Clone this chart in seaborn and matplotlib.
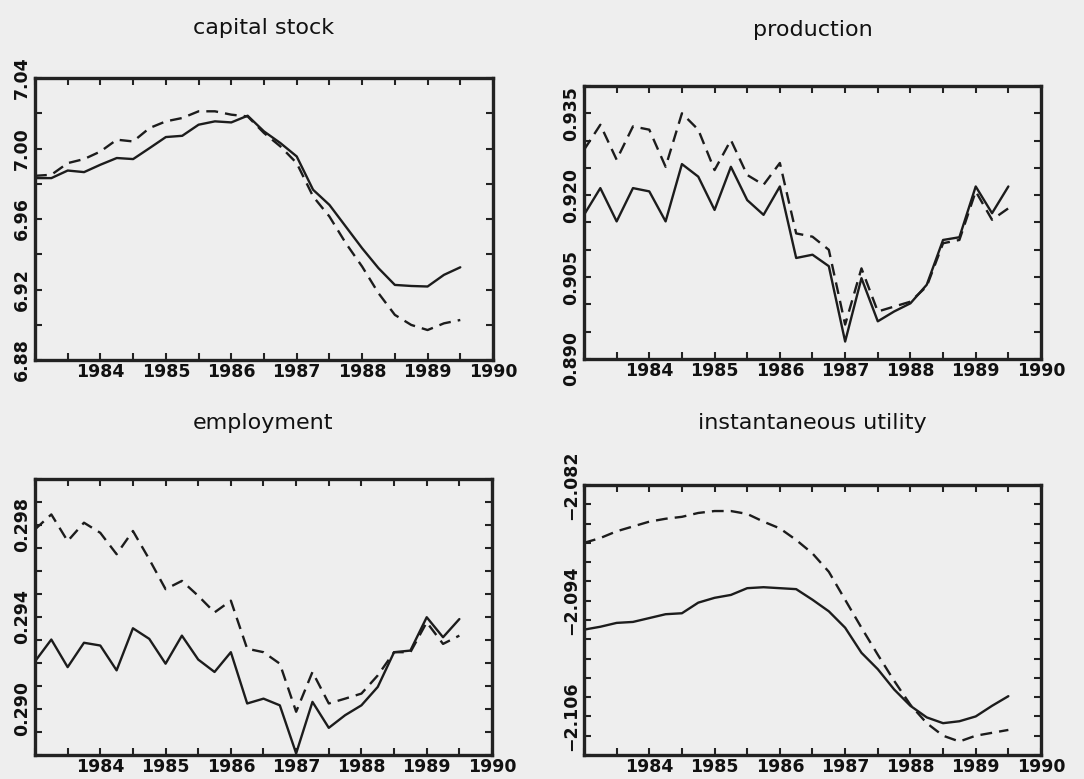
import numpy as np
import pandas as pd
from matplotlib import pyplot as plt
from matplotlib.ticker import MultipleLocator
import seaborn as sb

# quarterly dates, 1983Q1 .. 1989Q3
quarters = [1983.0, 1983.25, 1983.5, 1983.75, 1984.0, 1984.25, 1984.5, 1984.75,
            1985.0, 1985.25, 1985.5, 1985.75, 1986.0, 1986.25, 1986.5, 1986.75,
            1987.0, 1987.25, 1987.5, 1987.75, 1988.0, 1988.25, 1988.5, 1988.75,
            1989.0, 1989.25, 1989.5]

capital_solid = [6.9832, 6.9832, 6.9875, 6.9866, 6.9908, 6.9946, 6.9940, 7.0002,
                 7.0065, 7.0072, 7.0135, 7.0154, 7.0148, 7.0186, 7.0097, 7.0031,
                 6.9955, 6.9766, 6.9680, 6.9557, 6.9434, 6.9321, 6.9226, 6.9220,
                 6.9217, 6.9283, 6.9326]
capital_dash = [6.9845, 6.9851, 6.9917, 6.9940, 6.9983, 7.0050, 7.0040, 7.0116,
                7.0154, 7.0173, 7.0211, 7.0211, 7.0192, 7.0182, 7.0088, 7.0012,
                6.9917, 6.9728, 6.9614, 6.9463, 6.9330, 6.9179, 6.9056, 6.8999,
                6.8970, 6.9008, 6.9027]

prod_solid = [0.9164, 0.9213, 0.9152, 0.9213, 0.9207, 0.9152, 0.9257, 0.9234,
              0.9173, 0.9252, 0.9191, 0.9164, 0.9216, 0.9085, 0.9091, 0.9070,
              0.8932, 0.9048, 0.8969, 0.8987, 0.9002, 0.9036, 0.9118, 0.9123,
              0.9216, 0.9167, 0.9216]
prod_dash = [0.9283, 0.9329, 0.9265, 0.9326, 0.9320, 0.9252, 0.9350, 0.9320,
             0.9246, 0.9301, 0.9237, 0.9219, 0.9259, 0.9130, 0.9124, 0.9100,
             0.8963, 0.9066, 0.8987, 0.8996, 0.9005, 0.9033, 0.9112, 0.9118,
             0.9207, 0.9155, 0.9176]

empl_solid = [0.29207, 0.29302, 0.29182, 0.29288, 0.29276, 0.29168, 0.29351, 0.29305,
              0.29197, 0.29319, 0.29215, 0.29161, 0.29247, 0.29024, 0.29045, 0.29016,
              0.28807, 0.29031, 0.28918, 0.28973, 0.29016, 0.29096, 0.29247, 0.29254,
              0.29399, 0.29312, 0.29391]
empl_dash = [0.29781, 0.29846, 0.29730, 0.29810, 0.29766, 0.29673, 0.29774, 0.29651,
             0.29521, 0.29557, 0.29492, 0.29420, 0.29471, 0.29262, 0.29247, 0.29197,
             0.28988, 0.29161, 0.29024, 0.29045, 0.29067, 0.29146, 0.29247, 0.29247,
             0.29377, 0.29283, 0.29319]

util_solid = [-2.0970, -2.0967, -2.0963, -2.0962, -2.0958, -2.0954, -2.0953, -2.0942,
              -2.0937, -2.0934, -2.0927, -2.0926, -2.0927, -2.0928, -2.0939, -2.0951,
              -2.0968, -2.0994, -2.1011, -2.1032, -2.1049, -2.1061, -2.1067, -2.1065,
              -2.1060, -2.1049, -2.1039]
util_dash = [-2.0880, -2.0875, -2.0868, -2.0863, -2.0858, -2.0855, -2.0853, -2.0849,
             -2.0847, -2.0847, -2.0850, -2.0858, -2.0865, -2.0877, -2.0891, -2.0910,
             -2.0939, -2.0968, -2.0996, -2.1023, -2.1048, -2.1067, -2.1080, -2.1086,
             -2.1080, -2.1077, -2.1074]

titles = ['capital stock', 'production', 'employment', 'instantaneous utility']
series = [(capital_solid, capital_dash), (prod_solid, prod_dash),
          (empl_solid, empl_dash), (util_solid, util_dash)]
ylims = [(6.88, 7.04), (0.890, 0.940), (0.288, 0.300), (-2.110, -2.082)]
ylabels = [['6.88', '6.92', '6.96', '7.00', '7.04'],
           ['0.890', '0.905', '0.920', '0.935'],
           ['0.290', '0.294', '0.298'],
           ['-2.106', '-2.094', '-2.082']]
yminor = [0.02, 0.005, 0.001, 0.002]
year_labels = [1984, 1985, 1986, 1987, 1988, 1989, 1990]

sb.set_theme(style='ticks')
bg = '#eeeeee'
ink = '#1c1c1c'
plt.rcParams['font.family'] = ['DejaVu Sans']

fig = plt.figure(figsize=(10.84, 7.79), dpi=100, facecolor=bg)
W, H = 1084, 779
# axes boxes in pixels: left, top, right, bottom
boxes = [(35, 78, 493, 360), (584, 86, 1041, 359),
         (35, 479, 492, 755), (584, 485, 1041, 755)]
title_y = [28, 30, 423, 423]

for i in range(4):
    l, t, r, b = boxes[i]
    ax = fig.add_axes([l / W, 1 - b / H, (r - l) / W, (b - t) / H])
    ax.set_facecolor(bg)
    solid, dash = series[i]
    df = pd.DataFrame({'date': quarters, 'solid': solid, 'dash': dash})
    sb.lineplot(data=df, x='date', y='solid', ax=ax, color=ink, lw=1.7)
    sb.lineplot(data=df, x='date', y='dash', ax=ax, color=ink, lw=1.7)
    ax.lines[-1].set_dashes((5, 3))

    ax.set_xlim(1983, 1990)
    ax.set_xticks(year_labels)
    ax.set_xticklabels([str(y) for y in year_labels])
    ax.xaxis.set_minor_locator(MultipleLocator(0.5))
    yt = [float(s) for s in ylabels[i]]
    ax.set_yticks(yt)
    ax.set_yticklabels([s.replace('-', '\u2212') for s in ylabels[i]],
                       rotation=90, va='center')
    ax.yaxis.set_minor_locator(MultipleLocator(yminor[i]))
    ax.set_ylim(*ylims[i])
    ax.tick_params(which='both', direction='in', top=True, right=True,
                   length=5, width=1.5, color='#222222',
                   labelsize=12.5, labelcolor='#111111')
    ax.tick_params(axis='x', pad=2)
    ax.tick_params(axis='y', pad=3)
    for lab in ax.get_xticklabels() + ax.get_yticklabels():
        lab.set_fontweight('bold')
    for sp in ax.spines.values():
        sp.set_linewidth(2.4)
        sp.set_color('#222222')
    ax.set_xlabel('')
    ax.set_ylabel('')
    fig.text((l + r) / 2 / W, 1 - title_y[i] / H, titles[i], fontsize=16,
             color='#111111', ha='center', va='center')

plt.savefig('out.png', dpi=100, facecolor=bg)
